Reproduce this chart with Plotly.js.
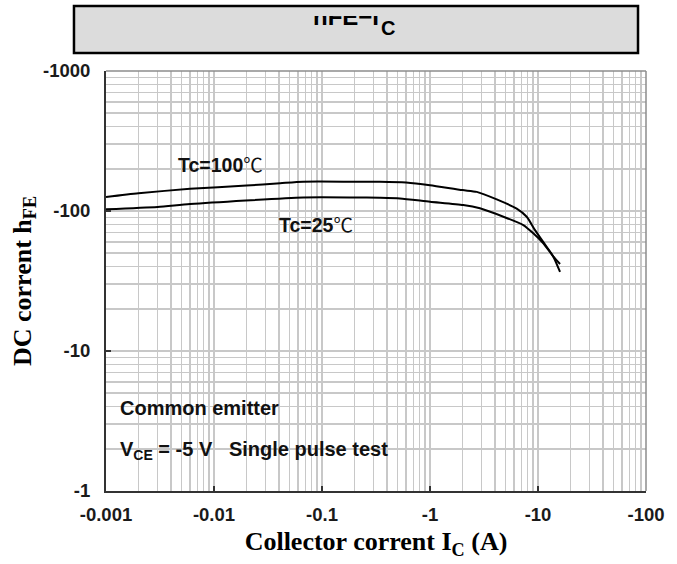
<!DOCTYPE html>
<html><head><meta charset="utf-8">
<script src="https://cdn.plot.ly/plotly-3.0.1.min.js"></script>
<style>html,body{margin:0;padding:0;background:#fff}</style>
</head><body><div id="chart" style="width:677px;height:564px"></div>
<script>
// Axis ticks (label text shown with the datasheet's minus signs)
const xTickVals = [0.001, 0.01, 0.1, 1, 10, 100];
const xTickText = ['-0.001', '-0.01', '-0.1', '-1', '-10', '-100'];
const yTickVals = [1, 10, 100, 1000];
const yTickText = ['-1', '-10', '-100', '-1000'];

// Tc = 100 °C curve (|Ic| in A, |hFE|)
const ic100  = [0.001, 0.002, 0.006, 0.02, 0.041, 0.067, 0.2, 0.344, 0.6, 1.0, 2.0, 2.71, 4.15, 6.35, 7.86, 9.38, 11.2, 13.9, 16.0];
const hfe100 = [126, 134, 144, 152, 158, 162, 162, 162, 160, 153, 141, 137, 121, 104, 91, 73, 60, 47, 36.7];

// Tc = 25 °C curve
const ic25  = [0.001, 0.003, 0.006, 0.067, 0.2, 0.344, 0.527, 1.0, 2.03, 2.9, 4.78, 7.31, 9.04, 11.2, 13.9, 16.0];
const hfe25 = [103, 107, 112, 125, 125, 124.4, 123, 116.5, 110.4, 104.5, 91, 79.4, 69.3, 58.8, 47.2, 41.8];

const labelFont = {family: 'Liberation Sans, Arial, sans-serif', size: 20, color: '#111', weight: 'bold'};
const serifFont = {family: 'Liberation Serif, Times New Roman, serif', size: 26, color: '#000', weight: 'bold'};
const gridColor = '#c8c8c8';

const traces = [
  {x: ic100, y: hfe100, mode: 'lines', line: {color: '#000', width: 2, shape: 'spline', smoothing: 0.6}, name: 'Tc=100℃', hoverinfo: 'skip'},
  {x: ic25, y: hfe25, mode: 'lines', line: {color: '#000', width: 2, shape: 'spline', smoothing: 0.6}, name: 'Tc=25℃', hoverinfo: 'skip'}
];

const axisCommon = {
  type: 'log',
  tickmode: 'array',
  showline: true, linecolor: '#333', linewidth: 2,
  ticks: 'inside', ticklen: 5, tickwidth: 1.5, tickcolor: '#333',
  showgrid: true, gridcolor: gridColor, gridwidth: 1.5,
  minor: {dtick: 'D1', showgrid: true, gridcolor: gridColor, gridwidth: 1.5, ticks: ''},
  tickfont: {family: 'Liberation Sans, Arial, sans-serif', size: 18.5, color: '#1a1a1a', weight: 'bold'},
  zeroline: false, mirror: false
};

const layout = {
  width: 677, height: 564,
  margin: {l: 106, r: 31, t: 71, b: 73},
  paper_bgcolor: '#fff', plot_bgcolor: '#fff',
  showlegend: false,
  xaxis: Object.assign({}, axisCommon, {
    range: [-3, 2], tickvals: xTickVals, ticktext: xTickText, ticklabelstandoff: 6,
    title: {text: 'Collector corrent I<sub>C</sub> (A)', font: serifFont, standoff: 8}
  }),
  yaxis: Object.assign({}, axisCommon, {
    range: [0, 3], tickvals: yTickVals, ticktext: yTickText, ticklabelstandoff: 10,
    title: {text: 'DC corrent h<sub>FE</sub>', font: serifFont, standoff: 4}
  }),
  shapes: [
    {type: 'rect', xref: 'paper', yref: 'paper', x0: -0.0593, x1: 0.9852, y0: 1.0429, y1: 1.1548,
     fillcolor: '#dcdcdc', line: {color: '#000', width: 2.5}, layer: 'below'},
    {type: 'line', xref: 'paper', yref: 'paper', x0: 0, x1: 1, y0: 1, y1: 1, line: {color: '#8c8c8c', width: 1.5}, layer: 'above'},
    {type: 'line', xref: 'paper', yref: 'paper', x0: 1, x1: 1, y0: 0, y1: 1, line: {color: '#8c8c8c', width: 1.5}, layer: 'above'}
  ],
  annotations: [
    {text: 'hFE−I', xref: 'paper', yref: 'paper', x: 0.3815, xanchor: 'left', y: 1.1333, yanchor: 'top',
     height: 14, valign: 'bottom', borderpad: 0, showarrow: false,
     font: {family: 'Liberation Sans, Arial, sans-serif', size: 24, color: '#000', weight: 'bold'}},
    {text: 'C', xref: 'paper', yref: 'paper', x: 0.5075, xanchor: 'left', y: 1.0740, yanchor: 'bottom',
     borderpad: 0, showarrow: false,
     font: {family: 'Liberation Sans, Arial, sans-serif', size: 20, color: '#000', weight: 'bold'}},
    {text: '<b>Tc=100</b><span style="font-family:Noto Sans CJK SC">℃</span>', xref: 'paper', yref: 'paper',
     x: 0.1315, xanchor: 'left', y: 0.7786, yanchor: 'middle', showarrow: false, borderpad: 0,
     font: {family: 'Liberation Sans, Arial, sans-serif', size: 19.5, color: '#111'}},
    {text: '<b>Tc=25</b><span style="font-family:Noto Sans CJK SC">℃</span>', xref: 'paper', yref: 'paper',
     x: 0.3185, xanchor: 'left', y: 0.6369, yanchor: 'middle', showarrow: false, borderpad: 0,
     font: {family: 'Liberation Sans, Arial, sans-serif', size: 19.5, color: '#111'}},
    {text: 'Common emitter', xref: 'paper', yref: 'paper', x: 0.0241, xanchor: 'left', y: 0.1976, yanchor: 'middle',
     showarrow: false, borderpad: 0, font: labelFont},
    {text: 'V<sub>CE</sub> = -5 V&nbsp;&nbsp; Single pulse test', xref: 'paper', yref: 'paper',
     x: 0.0241, xanchor: 'left', y: 0.0976, yanchor: 'middle', showarrow: false, borderpad: 0, font: labelFont}
  ]
};

Plotly.newPlot('chart', traces, layout, {displayModeBar: false, staticPlot: true});
</script>
</body></html>
